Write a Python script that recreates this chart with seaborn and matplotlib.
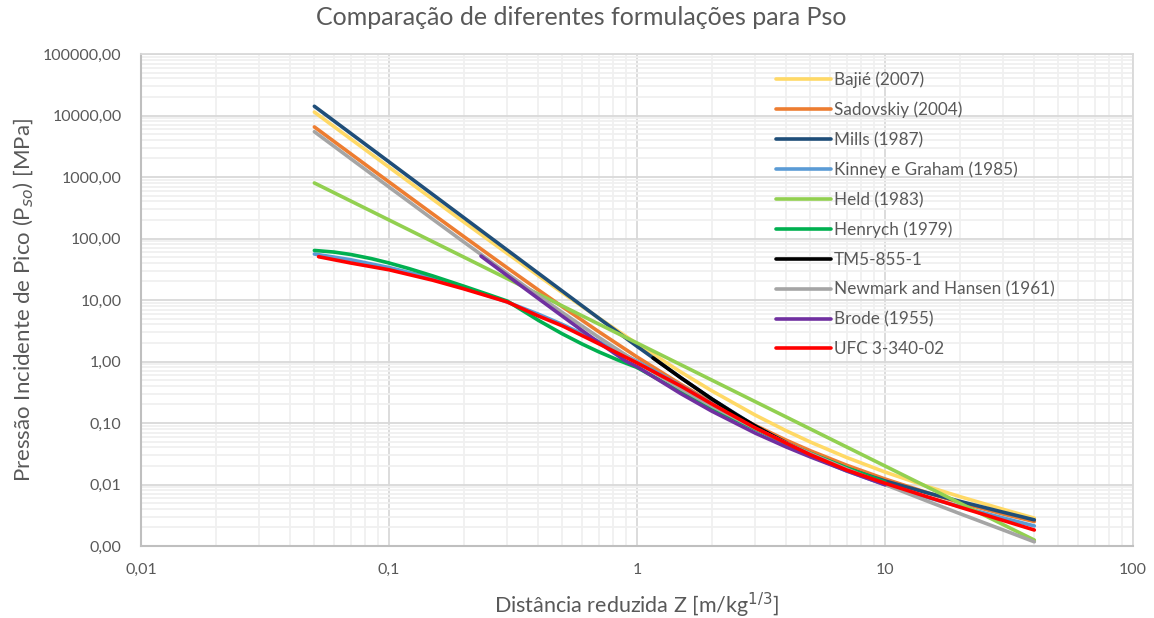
import matplotlib
matplotlib.use("Agg")
import matplotlib.pyplot as plt
import pandas as pd
import seaborn as sns
from matplotlib.ticker import LogLocator, FuncFormatter, NullFormatter, FixedLocator

# Reduced distance Z [m/kg^(1/3)] and peak incident overpressure Pso [MPa]
z_std = [0.05, 0.07, 0.1, 0.15, 0.2, 0.3, 0.4, 0.5, 0.7, 1, 1.5, 2, 3, 4, 5, 7, 10, 15, 20, 30, 40]

p_bajie = [11376, 4172, 1444.6, 434.9, 186.4, 57.04, 24.86, 13.15, 5.117, 1.938, 0.6766, 0.335,
           0.1343, 0.07463, 0.04904, 0.02755, 0.01596, 0.00915, 0.00637, 0.00394, 0.00284]
p_sadovskiy = [6521.7, 2394.8, 830.9, 250.9, 107.9, 33.25, 14.59, 7.77, 3.066, 1.185, 0.427, 0.2175,
               0.0913, 0.0525, 0.0354, 0.0206, 0.0123, 0.00724, 0.0051, 0.0033, 0.0025]
p_mills = [14133, 5144, 1762, 520.7, 219.2, 64.7, 27.25, 13.94, 5.09, 1.766, 0.546, 0.247,
           0.0890, 0.0476, 0.0312, 0.0183, 0.01143, 0.00722, 0.00534, 0.00354, 0.00266]
p_kinney = [56.0, 45.18, 33.74, 22.48, 16.06, 9.252, 5.89, 4.004, 2.117, 1.009, 0.406, 0.2079,
            0.0823, 0.04485, 0.02924, 0.0166, 0.00998, 0.00607, 0.00439, 0.002854, 0.002121]
p_held = [800, 408.2, 200, 88.9, 50, 22.2, 12.5, 8, 4.08, 2, 0.889, 0.5,
          0.222, 0.125, 0.08, 0.0408, 0.02, 0.00889, 0.005, 0.00222, 0.00125]
p_newmark = [5453.5, 1993.7, 687.7, 206.1, 88.09, 26.92, 11.76, 6.259, 2.480, 0.9725, 0.3611, 0.1888,
             0.0817, 0.04736, 0.03174, 0.01786, 0.00998, 0.00526, 0.00337, 0.00182, 0.00117]

z_henrych = [0.05, 0.06, 0.07, 0.085, 0.1, 0.12, 0.15, 0.2, 0.25, 0.3, 0.4, 0.5, 0.6, 0.7, 0.85, 1,
             1.5, 2, 3, 4, 5, 7, 10]
p_henrych = [63.97, 60.19, 55.04, 47.03, 40.0, 32.54, 24.66, 16.81, 12.37, 9.60, 4.677, 2.814, 1.929,
             1.440, 1.031, 0.800, 0.3216, 0.1755, 0.0792, 0.0470, 0.0321, 0.0187, 0.0110]

z_tm5 = [1.16, 1.5, 2, 2.5, 3, 3.5, 4]
p_tm5 = [1.144, 0.546, 0.247, 0.138, 0.0890, 0.0629, 0.0476]

z_brode = [0.235, 0.3, 0.4, 0.5, 0.6, 0.7, 0.8, 0.9, 1, 1.5, 2, 3, 4, 5, 7, 10]
p_brode = [51.7, 24.9, 10.57, 5.46, 3.20, 2.05, 1.41, 1.019, 0.826, 0.3011, 0.1563, 0.0684,
           0.0407, 0.0281, 0.0167, 0.00989]

z_ufc = [0.052, 0.07, 0.1, 0.15, 0.2, 0.3, 0.4, 0.5, 0.7, 1, 1.5, 2, 3, 4, 5, 7, 10, 15, 20, 30, 40]
p_ufc = [50.6, 40.0, 31.0, 21.0, 15.2, 9.3, 5.5, 3.8, 1.95, 0.95, 0.40, 0.205, 0.083, 0.047,
         0.0305, 0.0172, 0.0105, 0.0062, 0.0043, 0.0026, 0.00182]

series_names = ["Bajié (2007)", "Sadovskiy (2004)", "Mills (1987)", "Kinney e Graham (1985)",
                "Held (1983)", "Henrych (1979)", "TM5-855-1", "Newmark and Hansen (1961)",
                "Brode (1955)", "UFC 3-340-02"]
series_colors = ["#FFD966", "#ED7D31", "#1F4E79", "#5B9BD5", "#92D050",
                 "#00B050", "#000000", "#A5A5A5", "#7030A0", "#FF0000"]
series_data = [(z_std, p_bajie), (z_std, p_sadovskiy), (z_std, p_mills), (z_std, p_kinney),
               (z_std, p_held), (z_henrych, p_henrych), (z_tm5, p_tm5), (z_std, p_newmark),
               (z_brode, p_brode), (z_ufc, p_ufc)]

x_ticks = [0.01, 0.1, 1, 10, 100]
y_ticks = [0.001, 0.01, 0.1, 1, 10, 100, 1000, 10000, 100000]

frames = [pd.DataFrame({"Z": z, "Pso": p, "Formulação": name})
          for name, (z, p) in zip(series_names, series_data)]
df = pd.concat(frames, ignore_index=True)

sns.set_style("white")
plt.rcParams["font.family"] = ["Lato", "DejaVu Sans"]
plt.rcParams["lines.solid_capstyle"] = "round"
text_color = "#595959"

fig = plt.figure(figsize=(11.54, 6.18), dpi=100)
ax = fig.add_axes([0.1222, 0.1165, 0.8596, 0.7961])
ax.set_xscale("log")
ax.set_yscale("log")

sns.lineplot(data=df, x="Z", y="Pso", hue="Formulação", hue_order=series_names,
             palette=series_colors, estimator=None, sort=False, linewidth=2.6, ax=ax)

ax.set_xlim(0.01, 100)
ax.set_ylim(0.001, 100000)

ax.xaxis.set_major_locator(FixedLocator(x_ticks))
ax.yaxis.set_major_locator(FixedLocator(y_ticks))
ax.xaxis.set_minor_locator(LogLocator(base=10, subs=range(2, 10), numticks=20))
ax.yaxis.set_minor_locator(LogLocator(base=10, subs=range(2, 10), numticks=20))
ax.xaxis.set_minor_formatter(NullFormatter())
ax.yaxis.set_minor_formatter(NullFormatter())
ax.xaxis.set_major_formatter(FuncFormatter(lambda v, _: f"{v:g}".replace(".", ",")))
ax.yaxis.set_major_formatter(FuncFormatter(lambda v, _: f"{v:.2f}".replace(".", ",")))

ax.set_axisbelow(True)
ax.grid(which="minor", color="#F0F0F0", linewidth=1.3)
ax.grid(which="major", color="#D9D9D9", linewidth=1.3)

ax.tick_params(axis="x", which="major", length=5, width=1.3, color="#BFBFBF",
               labelsize=11.5, labelcolor=text_color, pad=7)
ax.tick_params(axis="y", which="major", length=0, labelsize=11.5, labelcolor=text_color, pad=14)
ax.tick_params(which="minor", length=0)

for side in ("left", "bottom"):
    ax.spines[side].set_color("#BFBFBF")
    ax.spines[side].set_linewidth(1.5)
for side in ("top", "right"):
    ax.spines[side].set_color("#D9D9D9")
    ax.spines[side].set_linewidth(1.3)

ax.set_xlabel("Distância reduzida Z [m/kg$^{1/3}$]", fontsize=15.5, color=text_color, labelpad=10)
ax.set_ylabel("Pressão Incidente de Pico (P$_{so}$) [MPa]", fontsize=16, color=text_color, labelpad=5)
fig.suptitle("Comparação de diferentes formulações para Pso", fontsize=18, color=text_color,
             x=0.504, y=0.99, va="top")

handles, labels = ax.get_legend_handles_labels()
leg = ax.legend(handles, labels, loc="upper left", bbox_to_anchor=(0.632, 0.982), frameon=False,
                fontsize=12.3, handlelength=3.2, handletextpad=0.15, labelspacing=0.80, borderpad=0)
for t in leg.get_texts():
    t.set_color(text_color)
for line in leg.get_lines():
    line.set_linewidth(2.6)

fig.savefig("out.png", dpi=100)
